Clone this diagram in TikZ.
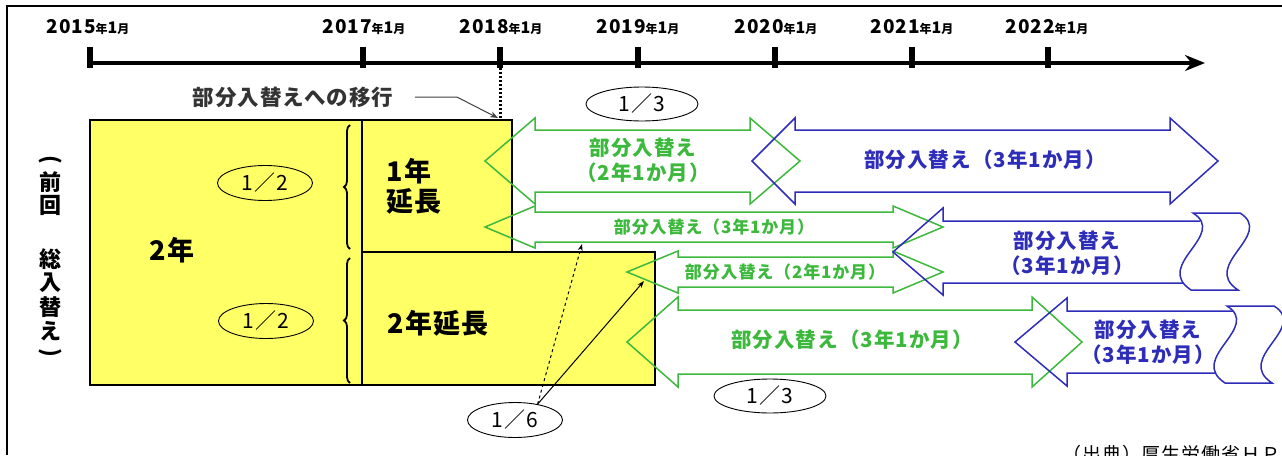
\documentclass[tikz,border=0pt]{standalone}
\usepackage{fontspec}
\setmainfont{Noto Sans CJK JP}[LetterSpace=5]
\usetikzlibrary{arrows.meta,decorations.pathreplacing,shapes.geometric}
\definecolor{boxyellow}{RGB}{255,255,102}
\definecolor{partgreen}{RGB}{60,185,60}
\definecolor{partblue}{RGB}{45,45,185}
\newcommand{\yearmonth}[1]{\bfseries\fontsize{19pt}{19pt}\selectfont #1\fontsize{12pt}{12pt}\selectfont 年\fontsize{16pt}{16pt}\selectfont 1\fontsize{12pt}{12pt}\selectfont 月}
\newcommand{\dblarrow}[8]{\draw[#1] (#2,#6) -- (#3,#6-#8) -- (#3,#6-#7) -- (#4,#6-#7) -- (#4,#6-#8) -- (#5,#6) -- (#4,#6+#8) -- (#4,#6+#7) -- (#3,#6+#7) -- (#3,#6+#8) -- cycle;}
\begin{document}
\begin{tikzpicture}[x=1pt,y=-1pt,
    yeartick/.style={line width=6pt},
    frac/.style={draw, ellipse, line width=0.9pt, minimum width=95pt, minimum height=35pt, inner sep=0pt, font=\fontsize{21pt}{21pt}\selectfont},
    greenarrow/.style={draw=partgreen, line width=1.5pt, line join=miter},
    bluearrow/.style={draw=partblue, line width=1.5pt, line join=miter},
    greentext/.style={text=partgreen, align=center, font=\bfseries\fontsize{20.5pt}{25pt}\selectfont},
    greensmall/.style={text=partgreen, font=\bfseries\fontsize{17pt}{17pt}\selectfont},
    bluetext/.style={text=partblue, align=center, font=\bfseries\fontsize{20.5pt}{25pt}\selectfont},
    boxtext/.style={font=\bfseries\fontsize{27pt}{30pt}\selectfont},
    sidetext/.style={font=\bfseries\fontsize{22pt}{22pt}\selectfont, inner sep=0pt}]
  \useasboundingbox (0,0) rectangle (1282,455);
  % frame
  \draw[line width=2pt] (7,455) -- (7,6) -- (1282,6);

  % time axis
  \draw[line width=3.2pt, -{Stealth[length=20pt,width=16pt]}] (90,63) -- (1205,63);
  \draw[yeartick] (90,47) -- (90,68);
  \draw[yeartick] (363,47) -- (363,68);
  \draw[yeartick] (500,47) -- (500,68);
  \draw[yeartick] (638,47) -- (638,68);
  \draw[yeartick] (775,47) -- (775,68);
  \draw[yeartick] (912,47) -- (912,68);
  \draw[yeartick] (1048,47) -- (1048,68);
  \node (y15) at (88,27) {\yearmonth{2015}};
  \node (y17) at (364,27) {\yearmonth{2017}};
  \node (y18) at (501,27) {\yearmonth{2018}};
  \node (y19) at (638,27) {\yearmonth{2019}};
  \node (y20) at (776,27) {\yearmonth{2020}};
  \node (y21) at (912,27) {\yearmonth{2021}};
  \node (y22) at (1047,27) {\yearmonth{2022}};

  % move to partial replacement
  \draw[line width=3pt, dash pattern=on 2pt off 2pt] (500,68) -- (500,118);
  \node[font=\bfseries\fontsize{21.5pt}{21.5pt}\selectfont, text=black!80] (ikou) at (293,97) {部分入替えへの移行};
  \coordinate (ikoutip) at (498,118);
  \draw[line width=1pt, black!75, -{Stealth[length=8pt,width=6pt]}] ([xshift=18pt]ikou.east) -- ++(42,0) -- (ikoutip);

  % previous full replacement
  \filldraw[fill=boxyellow, line width=2.5pt] (90,120) -- (512,120) -- (512,252) -- (655,252) -- (655,385) -- (90,385) -- cycle;
  \draw[line width=2.5pt] (362,120) -- (362,385) (362,252) -- (512,252);
  \draw[line width=1.8pt, decorate, decoration={brace, amplitude=6pt}] (350,249) -- (350,125);
  \draw[line width=1.8pt, decorate, decoration={brace, amplitude=6pt}] (350,383) -- (350,258);
  \node[boxtext] (twoyr) at (172,250) {2年};
  \node[boxtext, align=left] (oneext) at (414,186) {1年\\延長};
  \node[boxtext] (twoext) at (438,323) {2年延長};

  \node[sidetext, rotate=-90] (lpar) at (50,160) {(};
  \node[sidetext] (zen) at (50,182) {前};
  \node[sidetext] (kai) at (50,205) {回};
  \node[sidetext] (sou) at (50,259) {総};
  \node[sidetext] (iri) at (50,283) {入};
  \node[sidetext] (kae) at (50,307) {替};
  \node[sidetext] (e) at (50,331) {え};
  \node[sidetext, rotate=-90] (rpar) at (50,353) {)};

  % partial replacement arrows
  \dblarrow{greenarrow}{485}{535}{750}{800}{161}{31}{43}
  \dblarrow{greenarrow}{485}{535}{893}{943}{227}{15}{21}
  \dblarrow{greenarrow}{627}{678}{893}{943}{272}{15}{21}
  \dblarrow{greenarrow}{627}{678}{1032}{1082}{342}{32}{45}
  \dblarrow{bluearrow}{752}{795}{1170}{1218}{161}{31}{43}
  \draw[bluearrow] (1200,221) -- (943,221) -- (943,208) -- (893,252) -- (943,295) -- (943,283) -- (1183,283);
  \draw[bluearrow] (1193,213) -- (1240,213) .. controls (1275,235) and (1200,265) .. (1238,290) -- (1191,290) .. controls (1153,265) and (1228,235) .. (1193,213) -- cycle;
  \draw[bluearrow] (1233,311) -- (1067,311) -- (1067,298) -- (1015,342) -- (1067,386) -- (1067,373) -- (1216,373);
  \draw[bluearrow] (1227,306) -- (1274,306) .. controls (1309,328) and (1234,358) .. (1272,383) -- (1225,383) .. controls (1187,358) and (1262,328) .. (1227,306) -- cycle;

  \node[greentext] (g1) at (643,160) {部分入替え\\（2年1か月）};
  \node[greensmall] (g2) at (714,227) {部分入替え（3年1か月）};
  \node[greensmall] (g3) at (785,272) {部分入替え（2年1か月）};
  \node[greentext] (g4) at (852,340) {部分入替え（3年1か月）};
  \node[bluetext] (b1) at (985,160) {部分入替え（3年1か月）};
  \node[bluetext] (b2) at (1067,253) {部分入替え\\（3年1か月）};
  \node[bluetext] (b3) at (1148,342) {部分入替え\\（3年1か月）};

  % shares
  \node[frac] (half1) at (265,183) {1／2};
  \node[frac] (half2) at (266,321) {1／2};
  \node[frac, minimum width=112pt, minimum height=34pt] (third1) at (642,104) {1／3};
  \node[frac, minimum width=112pt, minimum height=34pt] (third2) at (770,396) {1／3};
  \node[frac] (sixth) at (515,420) {1／6};
  \coordinate (sixa) at (582,244);
  \coordinate (sixb) at (644,281);
  \draw[line width=1pt, dashed, -{Stealth[length=7pt,width=5pt]}] (sixth.35) -- (sixa);
  \draw[line width=1pt, -{Stealth[length=7pt,width=5pt]}] (sixth.35) -- (sixb);

  \node[anchor=north west, inner sep=0pt, font=\fontsize{19pt}{19pt}\selectfont] (src) at (1062,445) {（出典）厚生労働省ＨＰ};
\end{tikzpicture}
\end{document}
